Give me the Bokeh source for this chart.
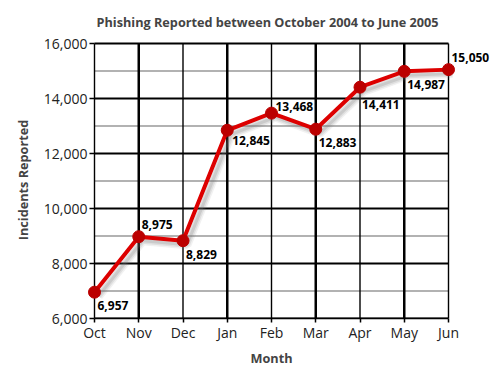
from bokeh.plotting import figure
from bokeh.models import (ColumnDataSource, Range1d, FixedTicker, SingleIntervalTicker,
                          LabelSet, NumeralTickFormatter, Title)
from bokeh.core.properties import value
from bokeh.embed import file_html
from bokeh.resources import INLINE

months = ["Oct", "Nov", "Dec", "Jan", "Feb", "Mar", "Apr", "May", "Jun"]
incidents = [6957, 8975, 8829, 12845, 13468, 12883, 14411, 14987, 15050]
label_side = ["below", "above", "below", "near_below", "right", "below", "far_below", "below", "above"]

idx = list(range(len(months)))
n = len(months) - 1
labels = [f"{v:,}" for v in incidents]
side_y = {"above": 8, "below": -9, "near_below": -6, "far_below": -13, "right": 2}
side_x = {"above": 3, "below": 3, "near_below": 5, "far_below": 2, "right": 4}
y_off = [side_y[s] for s in label_side]
x_off = [side_x[s] for s in label_side]
base = ["top" if "below" in s else "bottom" for s in label_side]
src = ColumnDataSource(dict(x=idx, y=incidents, label=labels, yo=y_off, xo=x_off, base=base))

FONT = "Open Sans"
YMIN, YMAX, YSTEP = 6000, 16000, 1000

# pixel geometry
GRID_W = 354          # px between Oct and Jun
GRID_H = 275          # px between 6,000 and 16,000
PAD_L, PAD_R, PAD_T = 8, 46, 2
ppu = GRID_W / n
px_y = (YMAX - YMIN) / GRID_H
x_start = -PAD_L / ppu
x_end = n + PAD_R / ppu
y_end = YMAX + PAD_T * px_y

p = figure(frame_width=GRID_W + PAD_L + PAD_R, frame_height=GRID_H + PAD_T,
           output_backend="svg", toolbar_location=None,
           x_range=Range1d(x_start, x_end), y_range=Range1d(YMIN, y_end),
           min_border_left=86, min_border_right=2, min_border_top=40, min_border_bottom=8)
p.background_fill_color = "white"
p.border_fill_color = "white"
p.outline_line_color = None
p.xgrid.visible = False
p.ygrid.visible = False

title = Title(text="Phishing Reported between October 2004 to June 2005", align="left",
              offset=10, text_font=FONT, text_font_size="12.7px", text_font_style="bold",
              standoff=21)
p.add_layout(title, "above")

# axes
p.xaxis.ticker = FixedTicker(ticks=idx)
p.xaxis.major_label_overrides = {i: m for i, m in zip(idx, months)}
p.xaxis.bounds = (0, n)
p.yaxis.ticker = SingleIntervalTicker(interval=2000)
p.yaxis.formatter = NumeralTickFormatter(format="0,0")
for ax in (p.xaxis, p.yaxis):
    ax.axis_line_color = "black"
    ax.axis_line_width = 1.5
    ax.major_tick_line_color = "black"
    ax.major_tick_line_width = 1.5
    ax.minor_tick_line_color = None
    ax.major_label_text_font = FONT
    ax.major_label_text_font_size = "14px"
    ax.major_label_text_color = "#222222"
    ax.axis_label_text_font = FONT
    ax.axis_label_text_font_size = "12.7px"
    ax.axis_label_text_font_style = "bold"
p.xaxis.major_tick_out = 4
p.xaxis.major_tick_in = 0
p.xaxis.major_label_standoff = 0
# y axis sits at the frame edge; ticks are shifted so they end at the Oct gridline
p.yaxis.axis_line_color = None
p.yaxis.major_tick_out = -(PAD_L - 5)
p.yaxis.major_tick_in = PAD_L
p.yaxis.major_label_standoff = -5
p.yaxis.axis_label = "Incidents Reported"
p.yaxis.axis_label_standoff = 9

month_title = Title(text="Month", align="left", offset=164, text_font=FONT,
                    text_font_size="12.7px", text_font_style="bold", standoff=4)
p.add_layout(month_title, "below")

# grid drawn as segments limited to the data area
major_y = list(range(YMIN, YMAX + 1, 2 * YSTEP))
minor_y = list(range(YMIN + YSTEP, YMAX, 2 * YSTEP))
p.segment(x0=[0] * len(minor_y), x1=[n] * len(minor_y), y0=minor_y, y1=minor_y,
          line_color="#999999", line_width=1.5)
p.segment(x0=[0] * len(major_y), x1=[n] * len(major_y), y0=major_y, y1=major_y,
          line_color="black", line_width=2)
thin_x = idx[0::2]
thick_x = idx[1::2]
p.segment(x0=thin_x, x1=thin_x, y0=[YMIN] * len(thin_x), y1=[YMAX] * len(thin_x),
          line_color="black", line_width=1.4)
p.segment(x0=thick_x, x1=thick_x, y0=[YMIN] * len(thick_x), y1=[YMAX] * len(thick_x),
          line_color="black", line_width=2.5)

# soft shadow via shifted ranges (pixel offset right/down)
px_x = 1.0 / ppu
p.extra_x_ranges = {"sh": Range1d(x_start - 4 * px_x, x_end - 4 * px_x)}
p.extra_y_ranges = {"sh": Range1d(YMIN + 4 * px_y, y_end + 4 * px_y)}
for w, a in ((9, 0.10), (6, 0.15), (3, 0.2)):
    p.line("x", "y", source=src, x_range_name="sh", y_range_name="sh",
           line_color="#777777", line_alpha=a, line_width=w)

p.line("x", "y", source=src, line_color="#dd0000", line_width=4)
p.scatter("x", "y", source=src, size=12, fill_color="#bb0000", line_color="#bb0000")

ls = LabelSet(x="x", y="y", text="label", source=src, x_offset="xo", y_offset="yo",
              text_baseline="base", text_align="left", text_font=value(FONT),
              text_font_size="12px", text_font_style="bold", text_color="black")
p.add_layout(ls)

open("out.html", "w").write(file_html(p, INLINE))
